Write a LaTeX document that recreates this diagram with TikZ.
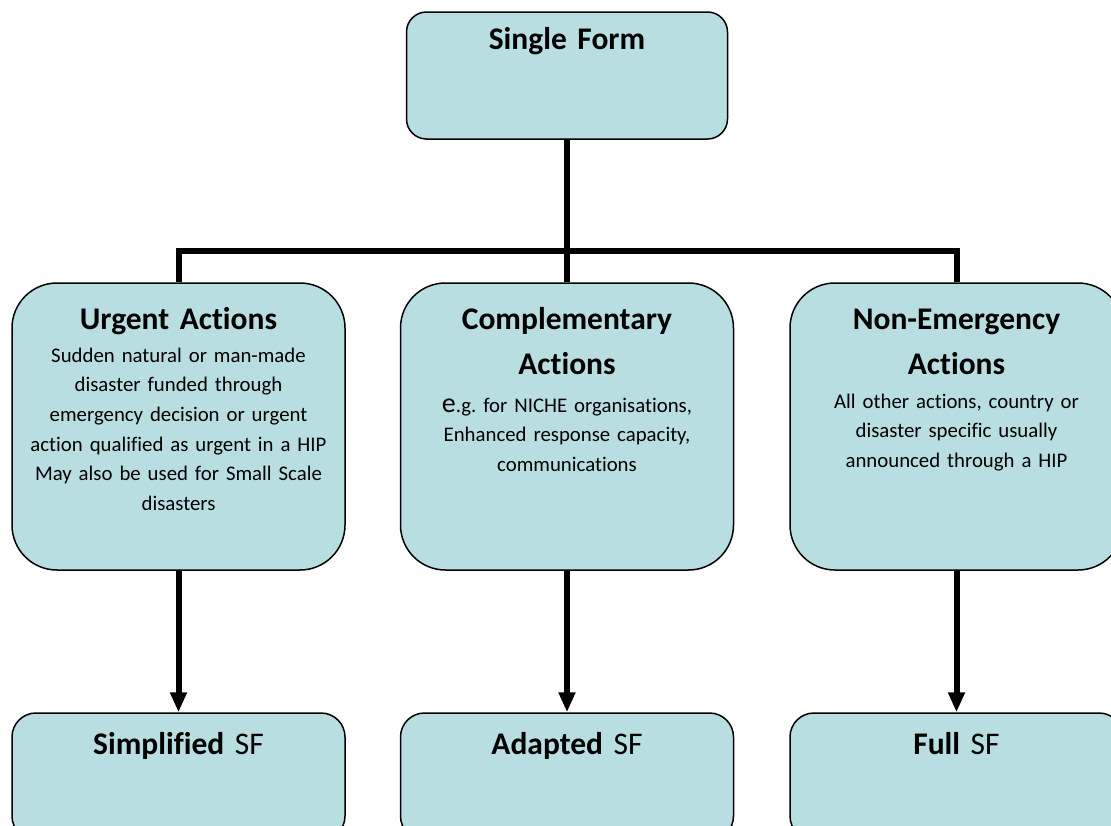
\documentclass[tikz,border=0pt]{standalone}
\usepackage{fontspec}
\setmainfont{Carlito}[Ligatures=CommonOff]
\frenchspacing
\usetikzlibrary{arrows.meta,positioning}
\definecolor{boxblue}{RGB}{184,222,226}
\tikzset{
  formbox/.style={draw, line width=1.5pt, fill=boxblue, inner sep=0pt,
    minimum width=333pt, minimum height=287pt, rounded corners=45pt},
  smallbox/.style={formbox, minimum height=127pt, rounded corners=24pt},
  boxtitle/.style={anchor=base, align=center, inner sep=0pt, text width=325pt,
    font=\fontsize{31.5}{45}\selectfont\bfseries},
  boxtext/.style={anchor=base, align=center, inner sep=0pt, text width=325pt,
    font=\fontsize{20.8}{29.6}\selectfont},
  conn/.style={line width=6pt},
  arr/.style={conn, -{Triangle[width=16pt,length=20pt]}}
}
\begin{document}
\begin{tikzpicture}[x=1pt, y=-1pt]
  \useasboundingbox (0,0) rectangle (1111,825);
  % boxes
  \node[smallbox, minimum width=321pt, rounded corners=20pt] (single) at (567,75.5) {};
  \node[formbox] (urgent) at (178.5,426.5) {};
  \node[formbox] (complementary) at (567,426.5) {};
  \node[formbox] (nonemergency) at (956.5,426.5) {};
  \node[smallbox] (simplified) at (178.5,776.5) {};
  \node[smallbox] (adapted) at (567,776.5) {};
  \node[smallbox] (full) at (956.5,776.5) {};
  % texts
  \node[boxtitle] (single title) at ([yshift=-38pt]single.north) {Single Form};
  \node[boxtitle] (urgent title) at ([yshift=-47pt]urgent.north) {Urgent Actions};
  \node[boxtext] (urgent text) at ([yshift=-80pt]urgent.north)
    {Sudden natural or man-made\\ disaster funded through\\ emergency decision or urgent\\
     action qualified as urgent in a HIP\\ May also be used for Small Scale\\ disasters};
  \node[boxtitle] (complementary title) at ([yshift=-47pt]complementary.north)
    {Complementary\\ Actions};
  \node[boxtext] (complementary text) at ([yshift=-130pt]complementary.north)
    {{\fontsize{28}{29.6}\selectfont e}.g. for NICHE organisations,\\
     Enhanced response capacity,\\ communications};
  \node[boxtitle] (nonemergency title) at ([yshift=-47pt]nonemergency.north)
    {Non-Emergency\\ Actions};
  \node[boxtext] (nonemergency text) at ([yshift=-126pt]nonemergency.north)
    {All other actions, country or\\ disaster specific usually\\ announced through a HIP};
  \node[boxtitle] (simplified title) at ([yshift=-42pt]simplified.north)
    {Simplified \mdseries SF};
  \node[boxtitle] (adapted title) at ([yshift=-42pt]adapted.north)
    {Adapted \mdseries SF};
  \node[boxtitle] (full title) at ([yshift=-42pt]full.north)
    {Full \mdseries SF};
  % connectors
  \coordinate (bus) at (567,251);
  \draw[conn] (single.south) -- (complementary.north);
  \draw[conn] (urgent.north) |- (bus) -| (nonemergency.north);
  \draw[arr] (urgent.south) -- (simplified.north);
  \draw[arr] (complementary.south) -- (adapted.north);
  \draw[arr] (nonemergency.south) -- (full.north);
\end{tikzpicture}
\end{document}
